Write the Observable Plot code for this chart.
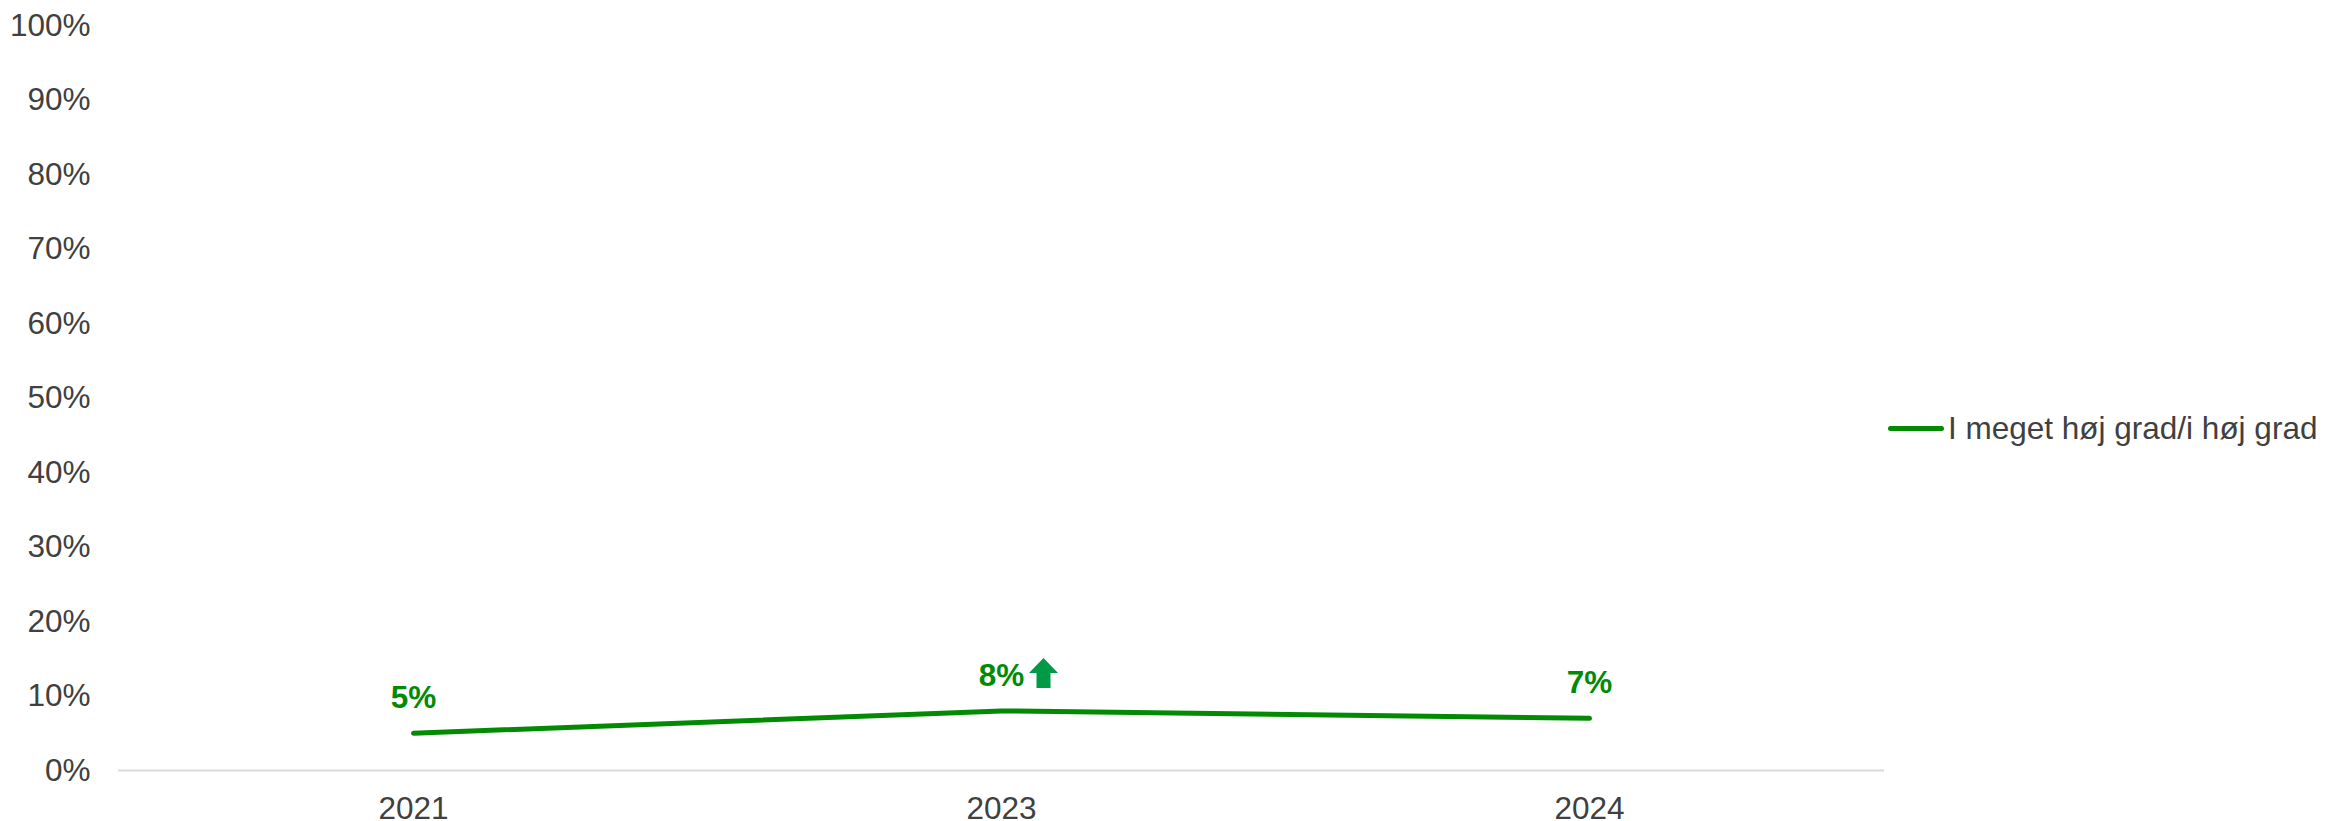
<!DOCTYPE html>
<html>
<head>
<meta charset="utf-8">
<script src="https://cdn.jsdelivr.net/npm/d3@7"></script>
<script src="https://cdn.jsdelivr.net/npm/@observablehq/plot@0.6"></script>
<style>
  body { margin: 0; background: #fff; }
  #wrap { position: relative; width: 2325px; height: 821px; font-family: "Liberation Sans", Arial, sans-serif; }
  #legend { position: absolute; left: 1888px; top: 410px; display: flex; align-items: center; font-size: 31.5px; color: #404040; white-space: nowrap; }
  #legend .sw { width: 56px; height: 5px; border-radius: 3px; background: #038a03; margin-right: 4px; }
</style>
</head>
<body>
<div id="wrap"><div id="chart"></div><div id="legend"><div class="sw"></div><span id="legtext"></span></div></div>
<script>
const years = ["2021", "2023", "2024"];
const values = [0.05, 0.08, 0.07];
const labels = ["5%", "8%", "7%"];
const changes = ["", "up", ""];
const seriesName = "I meget høj grad/i høj grad";
const yTicks = [0, 0.1, 0.2, 0.3, 0.4, 0.5, 0.6, 0.7, 0.8, 0.9, 1.0];

const data = years.map((y, i) => ({year: y, value: values[i], label: labels[i], change: changes[i]}));

const upArrow = {
  draw(ctx) {
    ctx.moveTo(0, -15);
    ctx.lineTo(14.5, 0);
    ctx.lineTo(7, 0);
    ctx.lineTo(7, 15);
    ctx.lineTo(-7, 15);
    ctx.lineTo(-7, 0);
    ctx.lineTo(-14.5, 0);
    ctx.closePath();
  }
};

const green = "#038a03";
const chart = Plot.plot({
  width: 2325,
  height: 821,
  marginLeft: 118,
  marginRight: 441,
  marginTop: 25,
  marginBottom: 51,
  style: {fontFamily: "'Liberation Sans', Arial, sans-serif", fontSize: "31.5px", color: "#404040", background: "#fff"},
  x: {type: "point", domain: years, padding: 0.5, label: null},
  y: {domain: [0, 1], label: null},
  marks: [
    Plot.axisY({ticks: yTicks, tickFormat: d => Math.round(d * 100) + "%", tickSize: 0, tickPadding: 28, label: null, fill: "#404040"}),
    Plot.axisX({tickSize: 0, tickPadding: 26, label: null, fill: "#404040"}),
    Plot.ruleY([0], {stroke: "#d9d9d9", strokeWidth: 2}),
    Plot.line(data, {x: "year", y: "value", stroke: green, strokeWidth: 5, strokeLinecap: "round", strokeLinejoin: "round"}),
    Plot.text(data, {x: "year", y: "value", text: "label", dy: -25, lineAnchor: "bottom", fill: green, fontWeight: "bold", fontSize: 31.5}),
    Plot.dot(data.filter(d => d.change === "up"), {x: "year", y: "value", symbol: upArrow, r: 10, fill: "#009a46", stroke: null, dx: 42, dy: -38})
  ]
});
document.getElementById("chart").appendChild(chart);
document.getElementById("legtext").textContent = seriesName;
</script>
</body>
</html>
